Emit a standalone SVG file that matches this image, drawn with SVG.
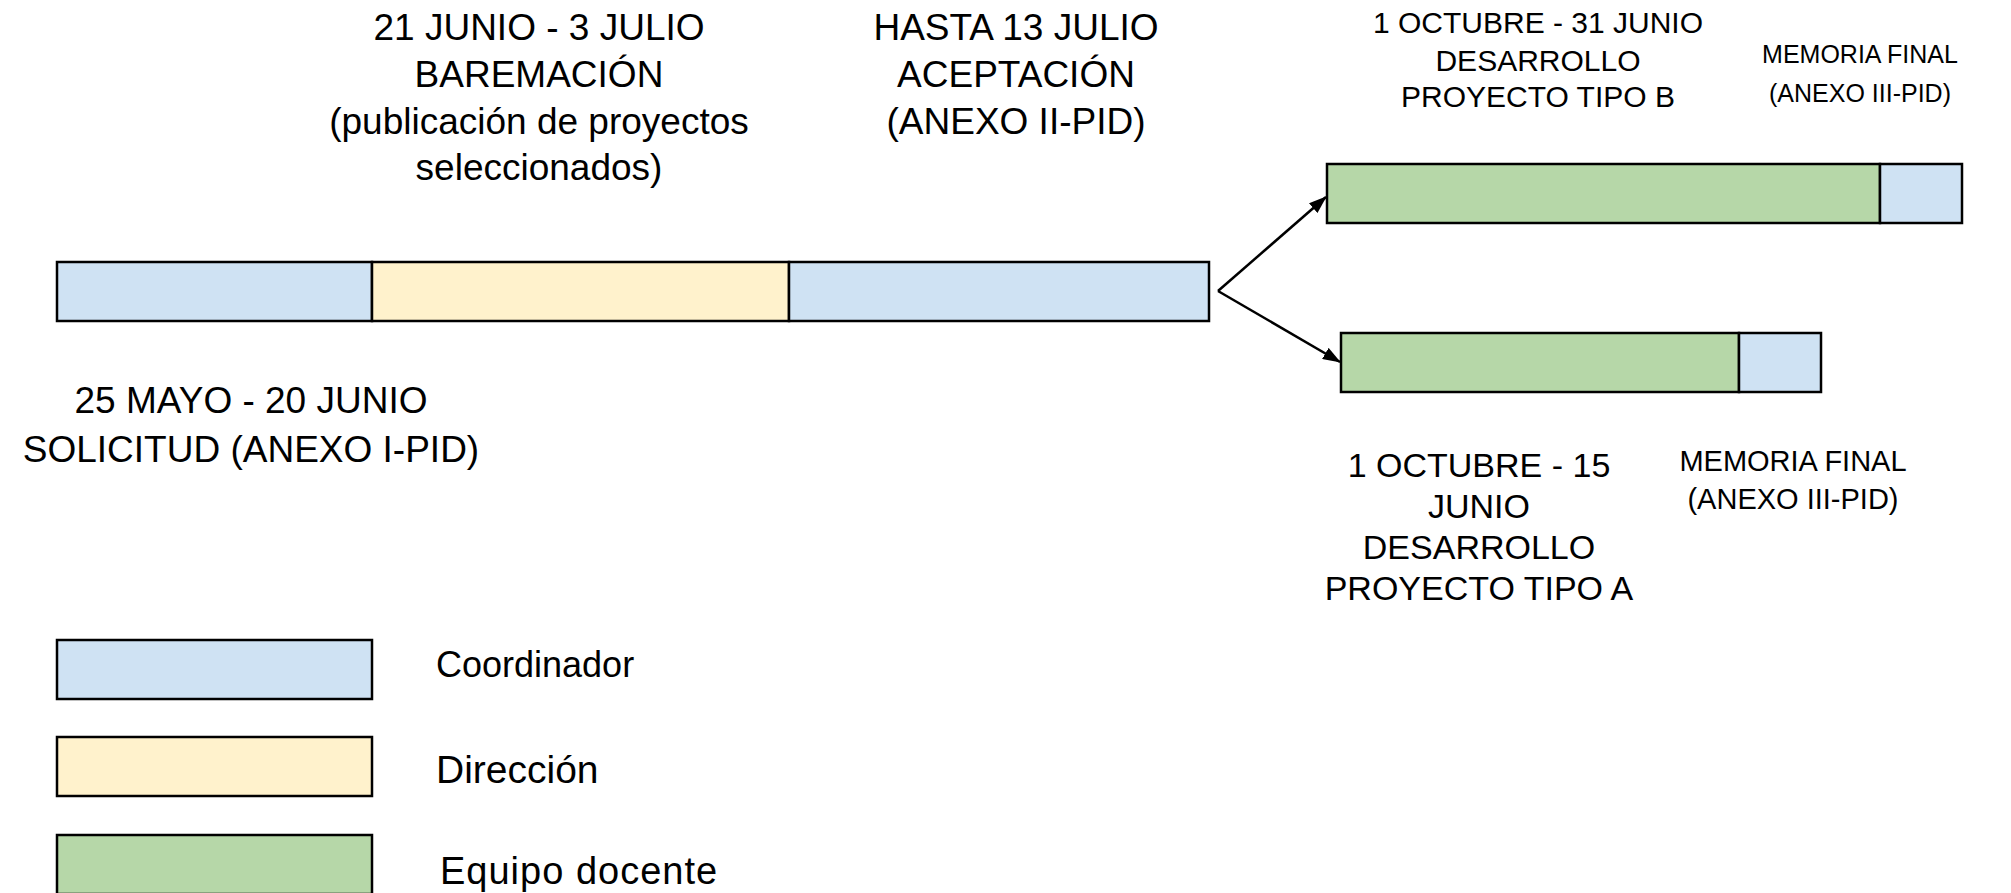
<svg xmlns="http://www.w3.org/2000/svg" width="2011" height="893" viewBox="0 0 2011 893">
<style>
.blue{fill:#cfe2f3;stroke:#000;stroke-width:2.5}
.yellow{fill:#fff2cc;stroke:#000;stroke-width:2.5}
.green{fill:#b6d7a8;stroke:#000;stroke-width:2.5}
text{font-family:"Liberation Sans",Arial,sans-serif;fill:#000;text-anchor:middle}
.big{font-size:37px}
.mid{font-size:34px}
.sm{font-size:30px}
.xs{font-size:25px}
.mem{font-size:29px}
.leg{text-anchor:start}
.conn{stroke:#000;stroke-width:2.5;fill:none}
</style>
<defs>
<marker id="ah" markerWidth="18" markerHeight="13" refX="17" refY="6.5" orient="auto" markerUnits="userSpaceOnUse" viewBox="0 0 18 13">
<path d="M0,0 L18,6.5 L0,13 z" fill="#000"/>
</marker>
</defs>
<rect width="2011" height="893" fill="#fff"/>
<g id="connectors">
<line class="conn" x1="1218" y1="291" x2="1326" y2="197" marker-end="url(#ah)"/>
<line class="conn" x1="1218" y1="291" x2="1340" y2="362" marker-end="url(#ah)"/>
</g>
<g id="node-solicitud">
<rect class="blue" x="57" y="262" width="315" height="59"/>
<text class="big" x="251" y="413">25 MAYO - 20 JUNIO</text>
<text class="big" x="251" y="462">SOLICITUD (ANEXO I-PID)</text>
</g>
<g id="node-baremacion">
<rect class="yellow" x="372" y="262" width="417" height="59"/>
<text class="big" x="539" y="40">21 JUNIO - 3 JULIO</text>
<text class="big" x="539" y="87">BAREMACIÓN</text>
<text class="big" x="539" y="134">(publicación de proyectos</text>
<text class="big" x="539" y="180">seleccionados)</text>
</g>
<g id="node-aceptacion">
<rect class="blue" x="789" y="262" width="420" height="59"/>
<text class="big" x="1016" y="40">HASTA 13 JULIO</text>
<text class="big" x="1016" y="87">ACEPTACIÓN</text>
<text class="big" x="1016" y="134">(ANEXO II-PID)</text>
</g>
<g id="node-tipo-b">
<rect class="green" x="1327" y="164" width="553" height="59"/>
<text class="sm" x="1538" y="33">1 OCTUBRE - 31 JUNIO</text>
<text class="sm" x="1538" y="71">DESARROLLO</text>
<text class="sm" x="1538" y="107">PROYECTO TIPO B</text>
</g>
<g id="node-memoria-b">
<rect class="blue" x="1880" y="164" width="82" height="59"/>
<text class="xs" x="1860" y="63">MEMORIA FINAL</text>
<text class="xs" x="1860" y="102">(ANEXO III-PID)</text>
</g>
<g id="node-tipo-a">
<rect class="green" x="1341" y="333" width="398" height="59"/>
<text class="mid" x="1479" y="477">1 OCTUBRE - 15</text>
<text class="mid" x="1479" y="518">JUNIO</text>
<text class="mid" x="1479" y="559">DESARROLLO</text>
<text class="mid" x="1479" y="600">PROYECTO TIPO A</text>
</g>
<g id="node-memoria-a">
<rect class="blue" x="1739" y="333" width="82" height="59"/>
<text class="mem" x="1793" y="471">MEMORIA FINAL</text>
<text class="mem" x="1793" y="509">(ANEXO III-PID)</text>
</g>
<g id="legend-coordinador">
<rect class="blue" x="57" y="640" width="315" height="59"/>
<text class="leg" x="436" y="677" font-size="36">Coordinador</text>
</g>
<g id="legend-direccion">
<rect class="yellow" x="57" y="737" width="315" height="59"/>
<text class="leg" x="436" y="783" font-size="39">Dirección</text>
</g>
<g id="legend-equipo">
<rect class="green" x="57" y="835" width="315" height="59"/>
<text class="leg" x="440" y="884" font-size="38" letter-spacing="1">Equipo docente</text>
</g>
</svg>
